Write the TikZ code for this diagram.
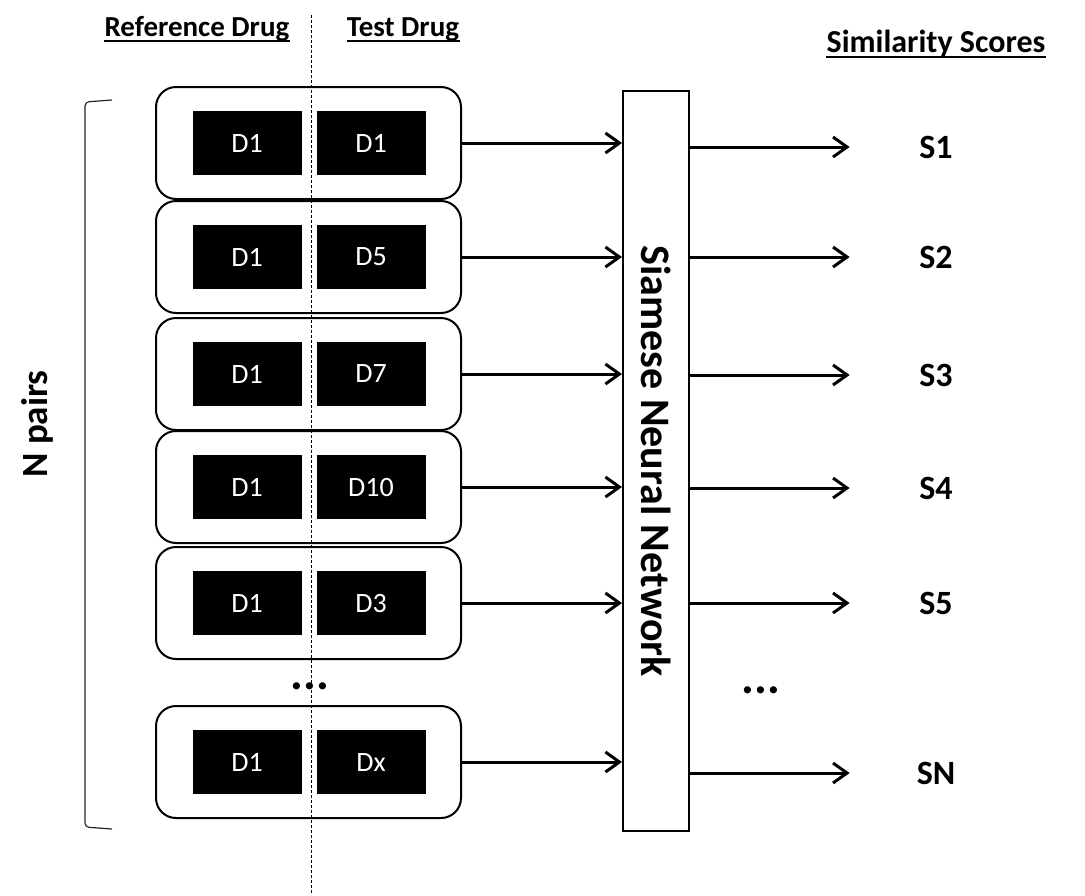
\documentclass[tikz,border=0pt]{standalone}
\usepackage{fontspec}
\setmainfont{Carlito}
\usetikzlibrary{arrows.meta,positioning}

\tikzset{
  pairbox/.style={draw, line width=1pt, rounded corners=10pt, minimum width=152.5pt, minimum height=56pt},
  drugbox/.style={fill=black, text=white, inner sep=0pt, minimum width=54.5pt, minimum height=32pt, font=\fontsize{14}{16}\selectfont},
  heading/.style={inner sep=0pt, anchor=base, font=\bfseries\fontsize{14.5}{17}\selectfont},
  score/.style={inner sep=0pt, minimum width=86pt, font=\bfseries\fontsize{17}{20}\selectfont},
  flow/.style={line width=1.5pt, -{Straight Barb[length=7pt,width=10pt]}},
  dots/.style={font=\bfseries\fontsize{24}{26}\selectfont}
}

\begin{document}
\begin{tikzpicture}[x=0.5pt,y=-0.5pt]
    \useasboundingbox (0,0) rectangle (1085,895);

    % Headings
    \node[heading] (refhead) at (197,36) {Reference Drug};
    \node[heading] (testhead) at (403,36) {Test Drug};
    \node[heading, font=\bfseries\fontsize{16}{19}\selectfont] (scorehead) at (936,52) {Similarity Scores};
    \foreach \h in {refhead,testhead,scorehead}
        \draw[line width=1pt] ([yshift=-2.5pt]\h.base west) -- ([yshift=-2.5pt]\h.base east);

    % Network
    \node[draw, line width=1pt, minimum width=33pt, minimum height=370pt] (net) at (656,461) {};
    \node[rotate=-90, font=\bfseries\fontsize{21}{25}\selectfont] (nettext) at (net.center) {Siamese Neural Network};

    % Drug pairs
    \foreach \y/\t/\n in {143/D1/1, 257/D5/2, 374/D7/3, 487/D10/4, 603/D3/5, 762/Dx/6} {
        \node[pairbox] (pair\n) at (308.5,\y) {};
        \node[drugbox] (ref\n) at (247,\y) {D1};
        \node[drugbox] (test\n) at (371,\y) {\t};
        \draw[flow] (pair\n.east) -- (pair\n.east -| net.west);
    }

    % Scores
    \foreach \y/\s in {147/1, 257/2, 375/3, 488/4, 603/5, 773/N} {
        \node[score] (s\s) at (936,\y) {S\s};
        \draw[flow] (s\s -| net.east) -- (s\s.west);
    }

    \node[dots] (dotsleft) at (310,686) {...};
    \node[dots] (dotsright) at (761,690) {...};

    % Divider and bracket
    \coordinate (divtop) at (311,15);
    \coordinate (divbot) at (311,895);
    \draw[line width=0.5pt, dash pattern=on 1.5pt off 1pt] (divtop) -- (divbot);
    \draw[line width=0.6pt, black!85, rounded corners=2pt] (112,100) -- (85,102) -- (85,827) -- (112,829);
    \node[rotate=90, font=\bfseries\fontsize{18.5}{22}\selectfont] (npairs) at (37,424) {N pairs};

\end{tikzpicture}
\end{document}
